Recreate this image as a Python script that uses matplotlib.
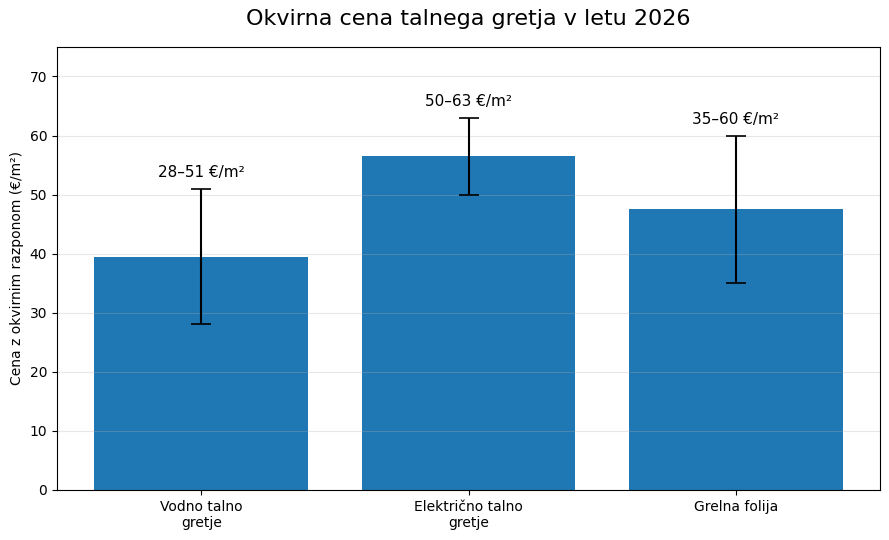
import matplotlib
matplotlib.use("Agg")
import matplotlib.pyplot as plt
import numpy as np

categories = ["Vodno talno\ngretje", "Električno talno\ngretje", "Grelna folija"]
low = [28, 50, 35]
high = [51, 63, 60]
labels = ["28–51 €/m²", "50–63 €/m²", "35–60 €/m²"]

mid = [(l + h) / 2 for l, h in zip(low, high)]
err_low = [m - l for m, l in zip(mid, low)]
err_high = [h - m for h, m in zip(high, mid)]

fig, ax = plt.subplots(figsize=(8.89, 5.4), dpi=100)
x = np.arange(len(categories))
ax.bar(x, mid, width=0.8, color="#1f77b4")
ax.errorbar(x, mid, yerr=[err_low, err_high], fmt="none", ecolor="black",
            elinewidth=1.5, capsize=7.5, capthick=1.2)
for xi, h, lab in zip(x, high, labels):
    ax.text(xi, h + 1.5, lab, ha="center", va="bottom", fontsize=11)

ax.set_xticks(x)
ax.set_xticklabels(categories)
ax.set_ylim(0, 75)
ax.set_yticks(range(0, 71, 10))
ax.set_ylabel("Cena z okvirnim razponom (€/m²)")
ax.set_title("Okvirna cena talnega gretja v letu 2026", fontsize=16, pad=15.5)
ax.grid(axis="y", alpha=0.3)
fig.subplots_adjust(left=0.064, right=0.99, top=0.913, bottom=0.093)
fig.savefig("out.png", dpi=100)
